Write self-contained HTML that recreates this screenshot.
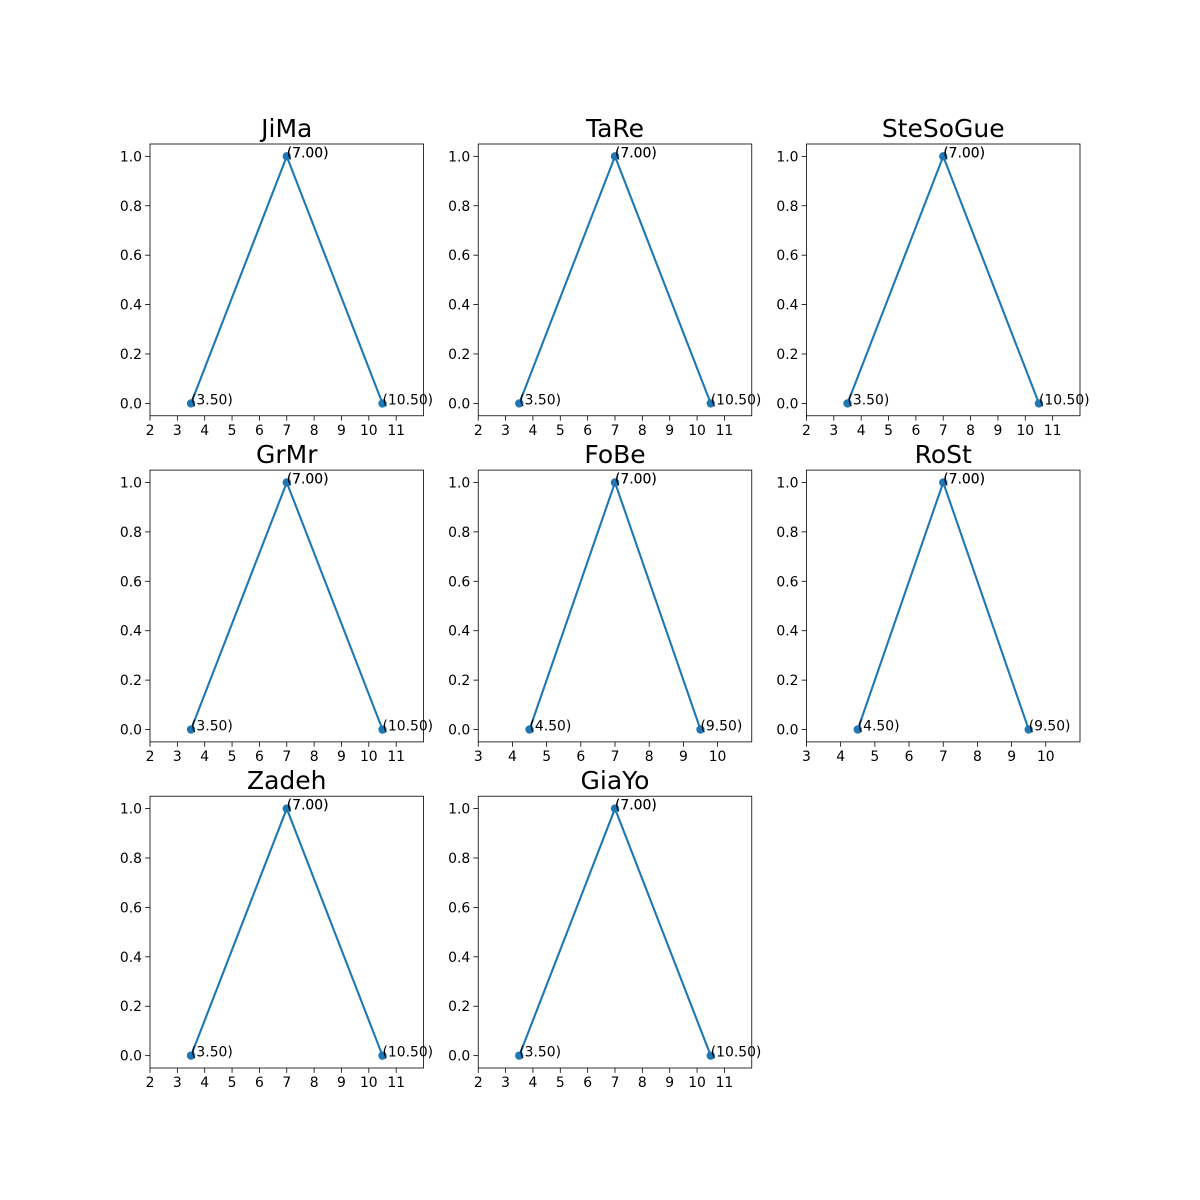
<!DOCTYPE html>
<html><head><meta charset="utf-8"><style>
body{margin:0;background:#fff}
svg{display:block}
text{font-family:"DejaVu Sans","Liberation Sans",sans-serif}
</style></head><body>
<svg id="fig" width="1200" height="1200" viewBox="0 0 1200 1200" xmlns="http://www.w3.org/2000/svg"></svg>
<script>
const titles = ["JiMa","TaRe","SteSoGue","GrMr","FoBe","RoSt","Zadeh","GiaYo"];
const xLow = [3.5,3.5,3.5,3.5,4.5,4.5,3.5,3.5];
const xPeak = [7,7,7,7,7,7,7,7];
const xHigh = [10.5,10.5,10.5,10.5,9.5,9.5,10.5,10.5];
const yVals = [0,1,0];
const yTicks = [0,0.2,0.4,0.6,0.8,1.0];

const NS="http://www.w3.org/2000/svg";
const svg=document.getElementById('fig');
function mk(tag,attrs,parent){const e=document.createElementNS(NS,tag);for(const k in attrs)e.setAttribute(k,attrs[k]);(parent||svg).appendChild(e);return e;}
const L=150,R=1080,T=144,B=1068;
const W=(R-L)/3.4, H=(B-T)/3.4;
titles.forEach((name,i)=>{
  const r=Math.floor(i/3), c=i%3;
  const x0=L+c*W*1.2, y0=T+r*H*1.2;
  const g=mk('g',{});
  
  
  const xs=[xLow[i],xPeak[i],xHigh[i]];
  const xmin=Math.min(...xs)-1.5, xmax=Math.max(...xs)+1.5;
  const ymin=-0.05,ymax=1.05;
  const sx=v=>x0+(v-xmin)/(xmax-xmin)*W;
  const sy=v=>y0+H-(v-ymin)/(ymax-ymin)*H;
  // title
  const t=mk('text',{x:x0+W/2,y:y0-7,'text-anchor':'middle','font-size':25,fill:'#000'},g);
  t.textContent=name;
  
  
  // x ticks
  for(let v=Math.ceil(xmin); v<xmax; v++){
    const px=sx(v);
    mk('line',{x1:px,x2:px,y1:y0+H,y2:y0+H+4.9,stroke:'#000','stroke-width':0.8},g);
    const tl=mk('text',{x:px,y:y0+H+19,'text-anchor':'middle','font-size':13.9,fill:'#000'},g);
    tl.textContent=v;
    
    
  }
  yTicks.forEach(v=>{
    const py=sy(v);
    mk('line',{x1:x0-4.9,x2:x0,y1:py,y2:py,stroke:'#000','stroke-width':0.8},g);
    const tl=mk('text',{x:x0-8,y:py+5,'text-anchor':'end','font-size':13.9,fill:'#000'},g);
    tl.textContent=v.toFixed(1);
    
    
  });
  // line
  const pts=xs.map((x,k)=>sx(x)+','+sy(yVals[k])).join(' ');
  const pl=mk('polyline',{points:pts,fill:'none',stroke:'#1f77b4','stroke-width':2.1},g);
  
  
  xs.forEach((x,k)=>{
    const cc=mk('circle',{cx:sx(x),cy:sy(yVals[k]),r:4.2,fill:'#1f77b4'},g);
    
    
    const reps = k===1?2:1;
    for(let q=0;q<reps;q++){
      const a=mk('text',{x:sx(x),y:sy(yVals[k])+1,'font-size':13.9,fill:'#000'},g);
      a.textContent='('+x.toFixed(2)+')';
      
      
    }
  });
  // frame
  const fr=mk('rect',{x:x0,y:y0,width:W,height:H,fill:'none',stroke:'#000','stroke-width':0.8},g);
  
  
});
</script>
</body></html>
